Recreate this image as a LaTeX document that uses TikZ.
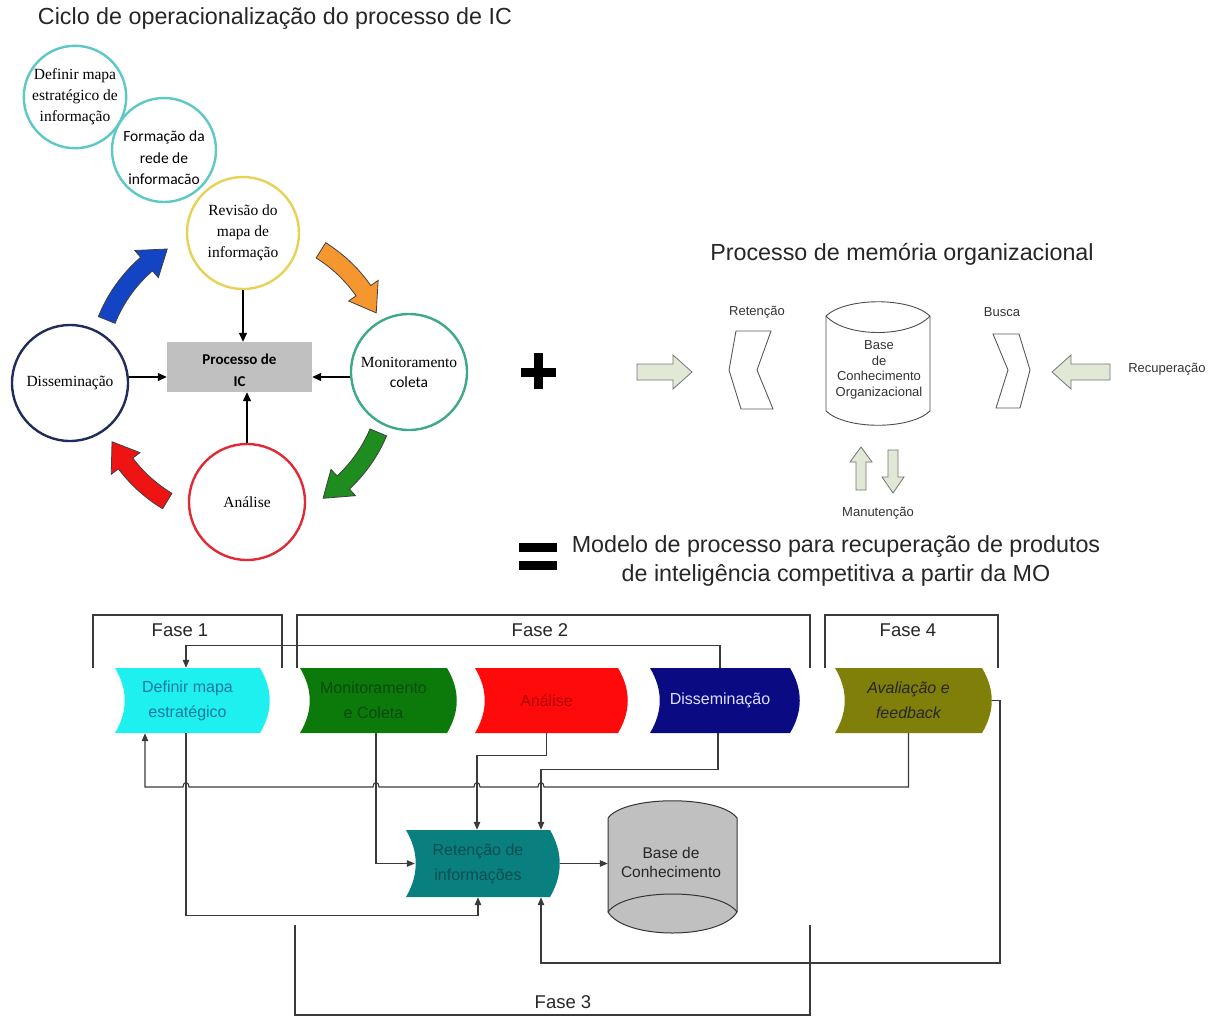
\documentclass[tikz,border=0pt]{standalone}
\usepackage{fontspec}
\setmainfont{Liberation Serif}
\newfontfamily\arial{Liberation Sans}
\newfontfamily\calib{Carlito}
\usetikzlibrary{arrows.meta,calc}

% ring colours of the IC cycle
\definecolor{ringteal}{HTML}{5CC9C6}
\definecolor{ringyellow}{HTML}{E6D256}
\definecolor{ringgreen}{HTML}{3DA88A}
\definecolor{ringred}{HTML}{E02A35}
\definecolor{ringnavy}{HTML}{1E2D5C}
% curved cycle arrows
\definecolor{arrblue}{HTML}{1244C4}
\definecolor{arrorange}{HTML}{F5972E}
\definecolor{arrgreen}{HTML}{1E8C1E}
\definecolor{arrred}{HTML}{EE1414}
% process boxes
\definecolor{boxcyan}{HTML}{1EF0F0}
\definecolor{boxgreen}{HTML}{0B7A0B}
\definecolor{boxred}{HTML}{FF0A0A}
\definecolor{boxnavy}{HTML}{0A0A82}
\definecolor{boxolive}{HTML}{7F7F0A}
\definecolor{boxteal}{HTML}{0A7F7F}
\definecolor{txtcyan}{HTML}{1A7A9A}
\definecolor{txtgreen}{HTML}{0A4A0A}
\definecolor{txtred}{HTML}{B00000}
\definecolor{txtnavy}{HTML}{E0E0FF}
\definecolor{txtteal}{HTML}{0A4F4F}
\definecolor{cylgray}{HTML}{C0C0C0}
\definecolor{blockfill}{HTML}{E2E8D6}
\definecolor{linegray}{HTML}{3A3A3A}

% wave-edged process box: name, cx, cy, w, h, fill, text style, text
\newcommand\wavebox[8]{%
  \path[fill=#6] ({#2-#4/2},{#3-#5/2}) -- ({#2+#4/2},{#3-#5/2})
    .. controls +(13,{#5/3}) and +(13,{-#5/3}) .. ({#2+#4/2},{#3+#5/2})
    -- ({#2-#4/2},{#3+#5/2})
    .. controls +(13,{-#5/3}) and +(13,{#5/3}) .. ({#2-#4/2},{#3-#5/2}) -- cycle;
  \node[inner sep=0, minimum width=#4pt, minimum height=#5pt, align=center, #7] (#1) at (#2,#3) {#8};
}

% curved block arrow around the cycle centre: start angle, end angle, colour
\newcommand\cyclearrow[3]{%
  \pgfmathsetmacro\hb{#2-10}
  \filldraw[fill=#3, draw=black!75, line width=0.8pt]
    plot[domain=#1:\hb, samples=24, variable=\t] ({243+156*cos(\t)},{375+156*sin(\t)})
    -- ({243+165*cos(\hb)},{375+165*sin(\hb)})
    -- ({243+147*cos(#2)},{375+147*sin(#2)})
    -- ({243+129*cos(\hb)},{375+129*sin(\hb)})
    -- plot[domain=\hb:#1, samples=24, variable=\t] ({243+138*cos(\t)},{375+138*sin(\t)})
    -- cycle;
}

\begin{document}
\begin{tikzpicture}[x=1pt,y=-1pt,
  ring/.style={circle, inner sep=0, minimum size=#1pt, fill=white, line width=2.4pt, align=center},
  ringtxt/.style={font=\fontsize{15.5}{21}\selectfont, align=center},
  blk/.style={draw=black, line width=1.3pt, -{Triangle[length=9pt,width=8pt]}},
  conn/.style={draw=linegray, line width=1.1pt, -{Triangle[length=8pt,width=6.5pt]}},
  plainline/.style={draw=linegray, line width=1.1pt},
  bigtitle/.style={font=\arial\fontsize{23.3}{28}\selectfont, text=black!85},
  small/.style={font=\arial\fontsize{13}{15.5}\selectfont, text=black!80, align=center},
  fase/.style={font=\arial\fontsize{18.5}{20}\selectfont, text=black!85},
  boxtxt/.style={font=\arial\fontsize{16}{25}\selectfont},
  block/.style={fill=blockfill, draw=black!55, line width=0.8pt}]
\useasboundingbox (0,0) rectangle (1212,1018);

% ---------------- IC cycle ----------------
\node[bigtitle] (ttl) at (275,19) {Ciclo de operacionalização do processo de IC};

\node[ring=102, draw=ringteal, ringtxt] (defc) at (75,97) {Definir mapa\\estratégico de\\informação};
\node[ring=104, draw=ringteal] (formc) at (164,150) {};
\begin{scope}
  \clip (100,100) rectangle (230,183);
  \node[font=\calib\fontsize{15.5}{21.5}\selectfont, align=center] (formtxt) at (164,159) {Formação da\\rede de\\informação};
\end{scope}
\node[ring=112, draw=ringyellow, ringtxt] (revc) at (243,233) {Revisão do\\mapa de\\informação};
\node[ring=116, draw=ringgreen, ringtxt] (monc) at (409,372) {Monitoramento\\[-1pt]{\calib coleta}};
\node[ring=116, draw=ringred, ringtxt] (anac) at (247,502) {Análise};
\node[ring=116, draw=ringnavy, ringtxt] (disc) at (70,383) {Disseminação};

\node[fill=cylgray, minimum width=145pt, minimum height=50pt, inner sep=0] (proc) at (239.5,367) {};
\node[font=\calib\bfseries\fontsize{15}{22}\selectfont, align=center] (proctxt) at (239.5,370) {Processo de\\IC};

\draw[blk] (revc.south) -- (revc.south |- proc.north);
\draw[blk] (anac.north) -- (anac.north |- proc.south);
\coordinate (dl) at ($(disc.east)+(0,-6)$);
\draw[blk] (dl) -- (dl -| proc.west);
\coordinate (ml) at ($(monc.west)+(0,5)$);
\draw[blk] (ml) -- (ml -| proc.east);

\cyclearrow{-158}{-121}{arrblue}
\cyclearrow{-58}{-25}{arrorange}
\cyclearrow{23}{57}{arrgreen}
\cyclearrow{121}{153}{arrred}

% plus sign
\fill (521,368) rectangle (556,377);
\fill (534,353) rectangle (543,389);

% ---------------- organizational memory ----------------
\node[bigtitle] (mtl) at (902,254) {Processo de memória organizacional};

\filldraw[block] (637,364) -- (673,364) -- (673,355) -- (692,372) -- (673,389) -- (673,380) -- (637,380) -- cycle;
\filldraw[block] (1110,364) -- (1071,364) -- (1071,355) -- (1052,372) -- (1071,389) -- (1071,380) -- (1110,380) -- cycle;
\filldraw[block] (861,447) -- (872,462) -- (866,462) -- (866,490) -- (856,490) -- (856,462) -- (850,462) -- cycle;
\filldraw[block] (893,493) -- (904,477) -- (898,477) -- (898,450) -- (888,450) -- (888,477) -- (882,477) -- cycle;

\draw[black!65, line width=0.9pt, fill=white] (736,331) -- (771,331) -- (757,370) -- (773,409) -- (741,409) -- (729,370) -- cycle;
\draw[black!65, line width=0.9pt, fill=white] (993,334) -- (1019,334) -- (1030,370) -- (1020,408) -- (996,408) -- (1008,370) -- cycle;

\draw[black!70, line width=0.9pt, fill=white]
  (826,316) .. controls (846,297) and (910,297) .. (930,316) -- (930,411)
  .. controls (910,430) and (846,430) .. (826,411) -- cycle;
\draw[black!70, line width=0.9pt] (826,316) .. controls (846,338) and (910,338) .. (930,316);
\node[small] (mbase) at (879,370) {Base\\de\\Conhecimento\\Organizacional};

\node[small] (lret) at (757,312) {Retenção};
\node[small] (lbus) at (1002,312) {Busca};
\node[small] (lrec) at (1167,369) {Recuperação};
\node[small] (lman) at (878,513) {Manutenção};

% equals sign and model title
\fill (519,543) rectangle (557,552);
\fill (519,561) rectangle (557,570);
\node[font=\arial\fontsize{23.3}{29}\selectfont, text=black!85, align=center] (model) at (836,561)
  {Modelo de processo para recuperação de produtos\\de inteligência competitiva a partir da MO};

% ---------------- process model ----------------
\draw[plainline] (93,668) |- (282,615) -- (282,668);
\draw[plainline] (297,668) |- (810,615) -- (810,668);
\draw[plainline] (825,668) |- (998,615) -- (998,668);
\draw[plainline] (295,925) |- (810,1015) -- (810,925);
\node[fase] (f1) at (180,630) {Fase 1};
\node[fase] (f2) at (540,630) {Fase 2};
\node[fase] (f4) at (908,630) {Fase 4};
\node[fase] (f3) at (563,1002) {Fase 3};

\wavebox{def}{187.5}{700.5}{145}{65}{boxcyan}{boxtxt, text=txtcyan}{Definir mapa\\estratégico}
\wavebox{mon}{373.5}{700.5}{147}{65}{boxgreen}{boxtxt, text=txtgreen}{Monitoramento\\e Coleta}
\wavebox{ana}{546.5}{700.5}{143}{65}{boxred}{boxtxt, text=txtred}{Análise}
\wavebox{dis}{720}{700.5}{140}{65}{boxnavy}{boxtxt, text=txtnavy}{Disseminação}
\wavebox{ava}{908.5}{700.5}{147}{65}{boxolive}{boxtxt, text=black!85, font=\arial\itshape\fontsize{16}{25}\selectfont}{Avaliação e\\feedback}
\wavebox{ret}{478}{863.5}{144}{67}{boxteal}{boxtxt, text=txtteal}{Retenção de\\informações}

\filldraw[fill=cylgray, draw=black!80, line width=1pt]
  (608,818) .. controls (625,795) and (720,795) .. (737,818) -- (737,912)
  .. controls (720,940) and (625,940) .. (608,912) -- cycle;
\draw[black!80, line width=1pt] (608,912) .. controls (625,888) and (720,888) .. (737,912);
\node[inner sep=0, minimum width=129pt, minimum height=135pt] (base) at (672.5,867.5) {};
\node[font=\arial\fontsize{15.5}{19}\selectfont, text=black!85, align=center] (basetxt) at (671,862) {Base de\\Conhecimento};

% feedback from dissemination to the strategic map
\draw[conn] (dis.north) -- ++(0,-22) -| ([xshift=-1.5pt]def.north);
% evaluation bus back to the strategic map, hopping over the vertical lines
\draw[conn] (ava.south) -- (908.5,787)
  -- (544,787) .. controls (544,781) and (538,781) .. (538,787)
  -- (480,787) .. controls (480,781) and (474,781) .. (474,787)
  -- (379,787) .. controls (379,781) and (373,781) .. (373,787)
  -- (189,787) .. controls (189,781) and (183,781) .. (183,787)
  -- (145,787) -- ([xshift=-42.5pt]def.south);
% inputs to the retention step
\draw[conn] ([xshift=-1.5pt]def.south) -- ++(0,182) -| (ret.south);
\draw[conn] ([xshift=2.5pt]mon.south) |- ([xshift=9pt]ret.west);
\draw[conn] (ana.south) -- ++(0,22) -| ([xshift=-1pt]ret.north);
\draw[conn] ([xshift=-2pt]dis.south) -- ++(0,36) -| ([xshift=63pt]ret.north);
\draw[conn] ([xshift=10pt]ret.east) -- (ret.east -| base.west);
\draw[conn] ([xshift=10pt]ava.east) -| (1000,963) -| ([xshift=63pt]ret.south);
\end{tikzpicture}
\end{document}
